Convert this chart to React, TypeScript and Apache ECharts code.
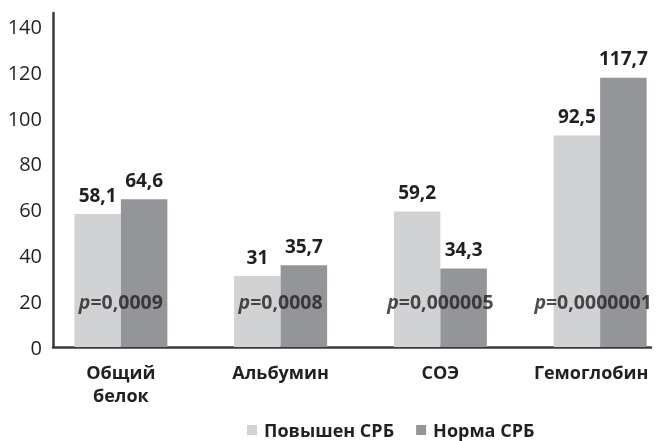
import React, { useEffect, useRef } from "react";
import * as echarts from "echarts";

const categories = ["Общий\nбелок", "Альбумин", "СОЭ", "Гемоглобин"];
const seriesNames = ["Повышен СРБ", "Норма СРБ"];
const elevatedCRP = [58.1, 31, 59.2, 92.5];
const normalCRP = [64.6, 35.7, 34.3, 117.7];
const pValues = ["0,0009", "0,0008", "0,000005", "0,0000001"];
const pLabelLevel = [20, 20, 20, 20];
const yTicks = [0, 20, 40, 60, 80, 100, 120, 140];

const FONT = "'Open Sans', 'DejaVu Sans', sans-serif";
const TEXT = "#231f20";
const LIGHT = "#d1d2d4";
const DARK = "#939598";
const AXIS = "#3a3a3a";

export default function App() {
  const ref = useRef<HTMLDivElement>(null);
  useEffect(() => {
    if (!ref.current) return;
    const chart = echarts.init(ref.current, undefined, { renderer: "svg" });
    const fmt = (v: number) => String(v).replace(".", ",");
    const last = categories.length - 1;
    const valueLabel = {
      show: true,
      position: "top",
      distance: 10,
      fontFamily: FONT,
      fontWeight: "bold",
      fontSize: 19,
      color: TEXT,
      formatter: (p: any) => fmt(p.value),
    };
    chart.setOption({
      animation: false,
      textStyle: { fontFamily: FONT },
      grid: [
        { left: 41, width: 639, top: 13, bottom: 94, outerBoundsMode: "none", containLabel: false },
        { left: 53, right: 5, top: 13, bottom: 94, outerBoundsMode: "none", containLabel: false },
      ],
      legend: {
        data: seriesNames,
        left: 242,
        top: 416,
        icon: "rect",
        itemWidth: 10,
        itemHeight: 10,
        itemGap: 22,
        textStyle: { fontFamily: FONT, fontWeight: "bold", fontSize: 18, color: TEXT, padding: [0, 0, 0, 2] },
      },
      xAxis: [
        {
          type: "category",
          gridIndex: 0,
          data: categories.map((c, i) =>
            i === last ? { value: c, textStyle: { padding: [0, 18, 0, 0] } } : c
          ),
          axisLine: { show: false },
          axisTick: { show: false },
          axisLabel: {
            margin: 13,
            fontFamily: FONT,
            fontWeight: "bold",
            fontSize: 18,
            lineHeight: 23,
            color: TEXT,
          },
        },
        {
          type: "value",
          gridIndex: 1,
          min: 0,
          max: 1,
          axisLine: { show: true, lineStyle: { color: AXIS, width: 2.5 } },
          axisTick: { show: false },
          axisLabel: { show: false },
          splitLine: { show: false },
        },
      ],
      yAxis: [
        {
          type: "value",
          gridIndex: 0,
          min: 0,
          max: 146,
          show: false,
          splitLine: { show: false },
        },
        {
          type: "value",
          gridIndex: 1,
          min: 0,
          max: 146,
          interval: 20,
          axisLine: { show: true, lineStyle: { color: AXIS, width: 2.5 } },
          axisTick: { show: false },
          splitLine: { show: false },
          axisLabel: {
            margin: 11,
            fontFamily: FONT,
            fontSize: 20,
            color: TEXT,
            formatter: (v: number) => (yTicks.includes(v) ? String(v) : ""),
          },
        },
      ],
      series: [
        {
          name: seriesNames[0],
          type: "bar",
          xAxisIndex: 0,
          yAxisIndex: 0,
          data: elevatedCRP,
          barWidth: 46.5,
          barGap: "0%",
          itemStyle: { color: LIGHT },
          label: valueLabel,
        },
        {
          name: seriesNames[1],
          type: "bar",
          xAxisIndex: 0,
          yAxisIndex: 0,
          data: normalCRP,
          barWidth: 46.5,
          barGap: "0%",
          itemStyle: { color: DARK },
          label: valueLabel,
        },
        {
          name: "p",
          type: "scatter",
          xAxisIndex: 0,
          yAxisIndex: 0,
          data: pLabelLevel.map((v, i) =>
            i === last ? { value: v, label: { offset: [-7, 0] } } : v
          ),
          symbolSize: 0,
          z: 10,
          silent: true,
          label: {
            show: true,
            position: "inside",
            formatter: (p: any) => `{i|p}{n|=${pValues[p.dataIndex]}}`,
            rich: {
              i: { fontFamily: FONT, fontWeight: "bold", fontStyle: "italic", fontSize: 19.5, color: TEXT },
              n: { fontFamily: FONT, fontWeight: "bold", fontSize: 19.5, color: TEXT },
            },
          },
        },
      ],
    });
    return () => chart.dispose();
  }, []);
  return <div ref={ref} style={{ width: 656, height: 441, position: "fixed", left: 0, top: 0 }} />;
}
